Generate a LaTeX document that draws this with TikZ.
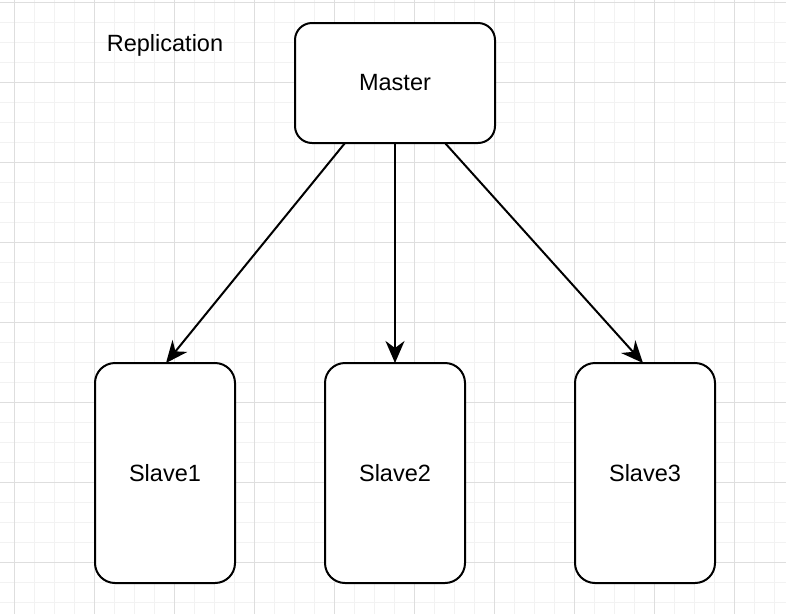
\documentclass[tikz,border=0pt]{standalone}
\usepackage{fontspec}
\setmainfont{Liberation Sans}
\usetikzlibrary{arrows.meta}
\definecolor{gridmajor}{RGB}{222,222,222}
\definecolor{gridminor}{RGB}{242,242,242}
\begin{document}
\begin{tikzpicture}[x=1pt,y=-1pt,
  box/.style={draw=black,line width=2pt,fill=white,inner sep=0pt,outer sep=0pt,
    font=\fontsize{23.5}{28}\selectfont},
  masterbox/.style={box,rounded corners=17pt,minimum width=200pt,minimum height=120pt},
  slavebox/.style={box,rounded corners=20pt,minimum width=140pt,minimum height=220pt},
  link/.style={line width=2pt,-{Stealth[length=22pt,width=19pt,inset=7pt]}},
  lbl/.style={font=\fontsize{23.5}{28}\selectfont,inner sep=0pt}]
\useasboundingbox (0,0) rectangle (786,614);
\fill[white] (0,0) rectangle (786,614);
% minor grid
\foreach \i in {0,...,39} {\draw[gridminor,line width=1pt] ({14+20*\i},0) -- ({14+20*\i},614);}
\foreach \j in {0,...,30} {\draw[gridminor,line width=1pt] (0,{2+20*\j}) -- (786,{2+20*\j});}
% major grid
\foreach \i in {0,...,9} {\draw[gridmajor,line width=1pt] ({14+80*\i},0) -- ({14+80*\i},614);}
\foreach \j in {0,...,7} {\draw[gridmajor,line width=1pt] (0,{2+80*\j}) -- (786,{2+80*\j});}

\node[lbl] (title) at (165,45) {Replication};
\node[masterbox] (master) at (395,83) {\raisebox{-1pt}{Master}};
\node[slavebox] (s1) at (165,473) {Slave1};
\node[slavebox] (s2) at (395,473) {Slave2};
\node[slavebox] (s3) at (645,473) {Slave3};

\draw[link] ([xshift=-50pt]master.south) -- ([xshift=1pt]s1.north);
\draw[link] (master.south) -- (s2.north);
\draw[link] ([xshift=50pt]master.south) -- ([xshift=-2pt]s3.north);
\end{tikzpicture}
\end{document}
